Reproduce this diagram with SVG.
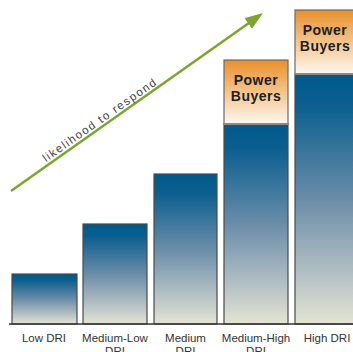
<svg xmlns="http://www.w3.org/2000/svg" width="353" height="352" viewBox="0 0 353 352">
<style>
.bar{fill:url(#blue);stroke:#4a4a4a;stroke-width:1.2}
.pb{fill:url(#orange);stroke:#6a6a6a;stroke-width:1.2}
.sep{stroke:#8a8a8a;stroke-width:2}
.lbl{font-family:"Liberation Sans",Arial,sans-serif;font-size:11.5px;fill:#333;text-anchor:middle}
.pbt{font-family:"Liberation Sans",Arial,sans-serif;font-size:14px;font-weight:bold;fill:#1e1e1e;text-anchor:middle;letter-spacing:0.5px}
.arr{stroke:#7aa62c;stroke-width:2.5;fill:none}
.atx{font-family:"Liberation Sans",Arial,sans-serif;font-size:11.5px;fill:#444;letter-spacing:1.5px;text-anchor:middle}
</style>
<defs>
<linearGradient id="blue" x1="0" y1="0" x2="0" y2="1">
<stop offset="0" stop-color="#005a8c"/>
<stop offset="0.12" stop-color="#0a5e8f"/>
<stop offset="0.5" stop-color="#6a8da8"/>
<stop offset="0.8" stop-color="#b3c0c4"/>
<stop offset="1" stop-color="#e4e4d4"/>
</linearGradient>
<linearGradient id="orange" x1="0" y1="0" x2="0" y2="1">
<stop offset="0" stop-color="#e8902a"/>
<stop offset="0.5" stop-color="#f4c48c"/>
<stop offset="1" stop-color="#fdf8f0"/>
</linearGradient>
<marker id="head" viewBox="0 0 18 13" refX="3" refY="6.5" markerWidth="18" markerHeight="13" markerUnits="userSpaceOnUse" orient="auto">
<path d="M0,0 L18,6.5 L0,13 z" fill="#7aa62c"/>
</marker>
</defs>
<g id="bar-low">
<rect class="bar" x="12" y="274" width="65" height="50"/>
<text class="lbl" x="44" y="342">Low DRI</text>
</g>
<g id="bar-medium-low">
<rect class="bar" x="83" y="224" width="64" height="100"/>
<text class="lbl" x="115" y="342">Medium-Low</text>
<text class="lbl" x="115" y="355">DRI</text>
</g>
<g id="bar-medium">
<rect class="bar" x="154" y="174" width="63" height="150"/>
<text class="lbl" x="185.5" y="342">Medium</text>
<text class="lbl" x="185.5" y="355">DRI</text>
</g>
<g id="bar-medium-high">
<rect class="bar" x="224" y="124" width="64" height="200"/>
<rect class="pb" x="224" y="60" width="64" height="64"/>
<line class="sep" x1="224" y1="124" x2="288" y2="124"/>
<text class="pbt" x="256" y="85">Power</text>
<text class="pbt" x="256" y="101">Buyers</text>
<text class="lbl" x="256" y="342">Medium-High</text>
<text class="lbl" x="256" y="355">DRI</text>
</g>
<g id="bar-high">
<rect class="bar" x="295" y="74" width="62" height="250"/>
<rect class="pb" x="295" y="10" width="62" height="64"/>
<line class="sep" x1="295" y1="74" x2="357" y2="74"/>
<text class="pbt" x="325" y="35">Power</text>
<text class="pbt" x="325" y="51">Buyers</text>
<text class="lbl" x="327" y="342">High DRI</text>
</g>
<g id="connectors">
<line x1="9" y1="324" x2="353" y2="324" stroke="#333" stroke-width="1.5"/>
<line class="arr" x1="11" y1="191" x2="250.7" y2="21.7" marker-end="url(#head)"/>
<text class="atx" transform="translate(102,123) rotate(-35)">likelihood to respond</text>
</g>
</svg>
